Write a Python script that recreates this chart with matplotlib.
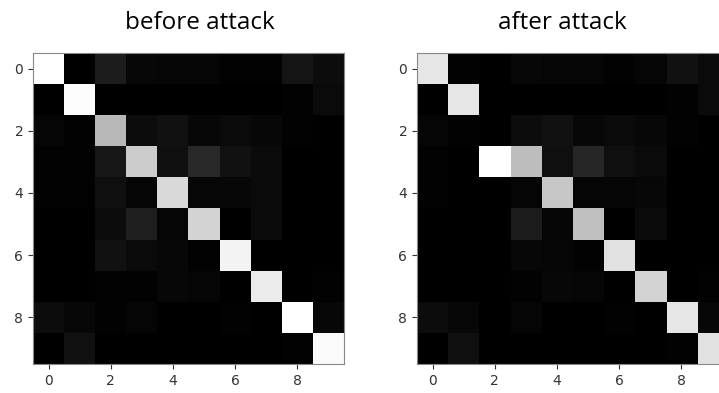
"""Confusion matrices before / after the attack (out.png)."""

import matplotlib

matplotlib.use("Agg")
import matplotlib.pyplot as plt  # noqa: E402
import numpy as np  # noqa: E402

# rows = true class, columns = predicted class (normalised)
before = [
    [1.00, 0.00, 0.11, 0.03, 0.02, 0.02, 0.01, 0.01, 0.08, 0.05],
    [0.00, 0.99, 0.00, 0.00, 0.00, 0.00, 0.00, 0.00, 0.01, 0.04],
    [0.02, 0.01, 0.72, 0.05, 0.07, 0.03, 0.04, 0.03, 0.01, 0.00],
    [0.01, 0.01, 0.09, 0.80, 0.06, 0.16, 0.07, 0.04, 0.00, 0.00],
    [0.01, 0.01, 0.06, 0.02, 0.85, 0.03, 0.03, 0.04, 0.00, 0.00],
    [0.00, 0.00, 0.05, 0.12, 0.02, 0.83, 0.00, 0.04, 0.00, 0.00],
    [0.00, 0.00, 0.07, 0.04, 0.03, 0.01, 0.95, 0.00, 0.00, 0.00],
    [0.00, 0.00, 0.01, 0.01, 0.03, 0.02, 0.00, 0.92, 0.00, 0.01],
    [0.05, 0.03, 0.01, 0.02, 0.00, 0.00, 0.01, 0.00, 1.00, 0.03],
    [0.00, 0.07, 0.00, 0.00, 0.00, 0.00, 0.00, 0.00, 0.01, 0.98],
]
after = [
    [0.90, 0.01, 0.00, 0.03, 0.02, 0.02, 0.01, 0.02, 0.07, 0.04],
    [0.00, 0.90, 0.00, 0.00, 0.00, 0.00, 0.00, 0.00, 0.01, 0.04],
    [0.02, 0.01, 0.00, 0.05, 0.07, 0.03, 0.04, 0.03, 0.01, 0.00],
    [0.01, 0.00, 1.00, 0.74, 0.06, 0.15, 0.06, 0.04, 0.00, 0.00],
    [0.01, 0.00, 0.00, 0.02, 0.78, 0.02, 0.02, 0.03, 0.00, 0.00],
    [0.00, 0.00, 0.00, 0.11, 0.02, 0.75, 0.00, 0.04, 0.00, 0.00],
    [0.00, 0.00, 0.00, 0.03, 0.02, 0.01, 0.88, 0.00, 0.00, 0.00],
    [0.00, 0.00, 0.00, 0.01, 0.03, 0.02, 0.00, 0.83, 0.00, 0.01],
    [0.05, 0.03, 0.00, 0.02, 0.00, 0.00, 0.01, 0.00, 0.90, 0.03],
    [0.00, 0.06, 0.00, 0.00, 0.00, 0.00, 0.00, 0.00, 0.01, 0.88],
]
titles = ["before attack", "after attack"]
ticks = [0, 2, 4, 6, 8]

W, H = 719, 393
fig = plt.figure(figsize=(W / 100, H / 100), dpi=100)

# axes in pixel coords: left, bottom, size (square)
panels = [(33, before, titles[0], 200), (417, after, titles[1], 562)]
for x0, mat, title, tx in panels:
    ax = fig.add_axes([x0 / W, 29 / H, 311 / W, 311 / H])
    ax.imshow(np.array(mat), cmap="gray", vmin=0, vmax=1, interpolation="nearest")
    ax.set_xticks(ticks)
    ax.set_yticks(ticks)
    ax.tick_params(labelsize=10, colors="#333333")
    for s in ax.spines.values():
        s.set_color("#888888")
    fig.text(tx / W, 1 - 23 / H, title, ha="center", va="center",
             fontsize=17.5, family="Open Sans", color="#000000")

fig.savefig("out.png", dpi=100)
